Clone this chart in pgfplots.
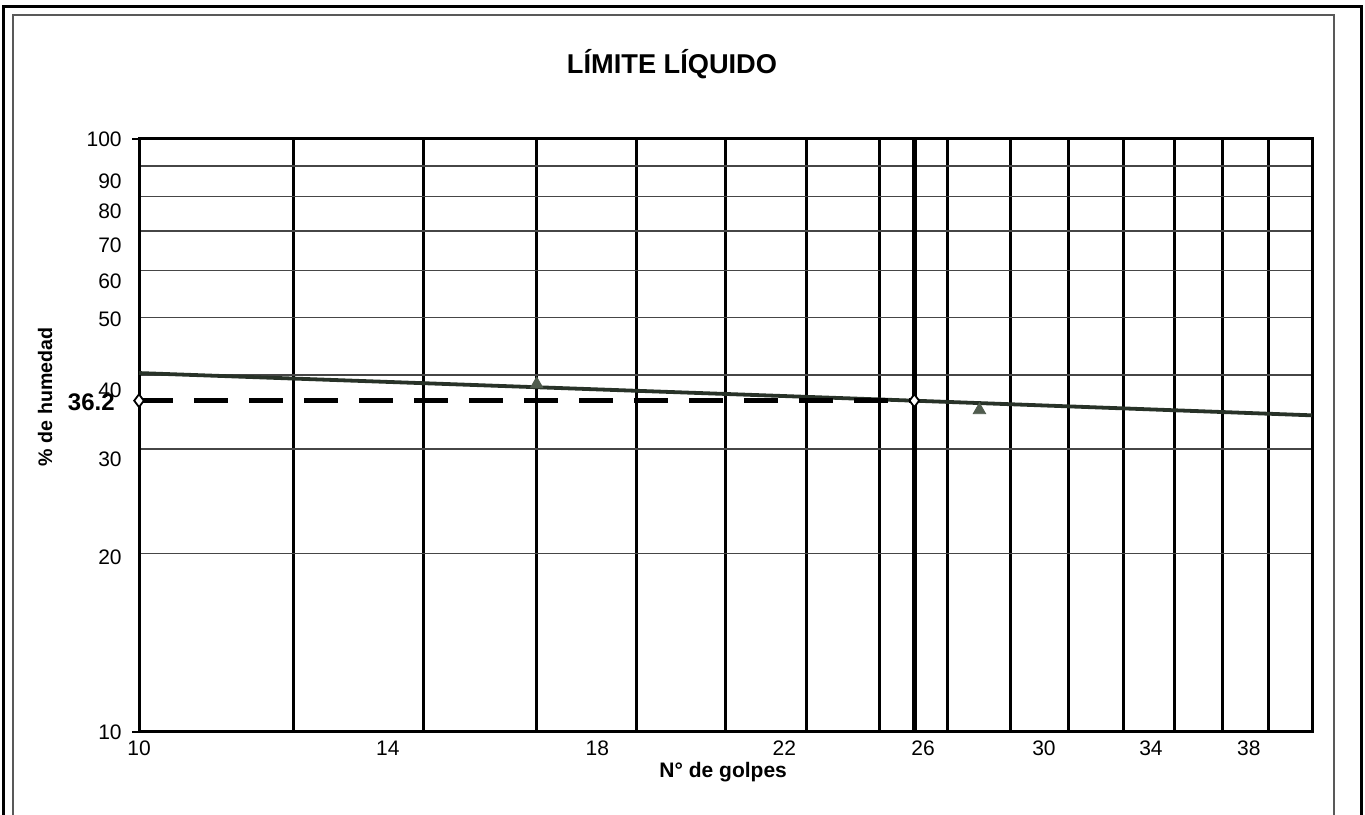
\documentclass[border=0pt]{standalone}
\usepackage{pgfplots}
\pgfplotsset{compat=1.18}
\usepackage{fontspec}
\setmainfont{Liberation Sans}

\definecolor{fitline}{RGB}{40,50,40}
\definecolor{puntos}{RGB}{80,92,78}
\definecolor{gridh}{RGB}{70,70,70}

\begin{document}
\begin{tikzpicture}[x=1pt,y=1pt]
\useasboundingbox (0,0) rectangle (682.5,407);
% double frame around the sheet
\begin{scope}
\clip (0,0) rectangle (682.5,407);
\draw[line width=1.5pt] (1.5,-10) -- (1.5,403.5) -- (680.5,403.5) -- (680.5,-10);
\draw[line width=0.7pt, black!65] (6.5,-10) -- (6.5,399.5) -- (667,399.5) -- (667,-10);
\end{scope}
\node[anchor=base, font=\bfseries\fontsize{13.6}{16}\selectfont] at (336,370) {LÍMITE LÍQUIDO};

\begin{axis}[
  at={(69.5pt,41pt)}, anchor=south west,
  scale only axis, width=586.5pt, height=296.5pt,
  xmode=log, ymode=log,
  xmin=10, xmax=40, ymin=10, ymax=100,
  clip=false,
  axis line style={line width=1.5pt},
  xtick={10,13.42,17.19,21.44,25.26,29.14,33.07,37.13},
  xticklabels={10,14,18,22,26,30,34,38},
  ytick={10,19.7,28.8,37.7,49.7,57.6,66.2,75.6,84.9,100},
  yticklabels={10,20,30,40,50,60,70,80,90,100},
  minor xtick={12,14,16,18,20,22,24,26,28,30,32,34,36,38},
  minor ytick={20,30,40,50,60,70,80,90},
  xmajorgrids=false, ymajorgrids=false,
  xminorgrids=true, yminorgrids=true,
  x grid style={black, line width=1.4pt},
  y grid style={gridh, line width=0.7pt},
  major tick length=0pt, minor tick length=0pt,
  tick pos=left,
  extra y ticks={10,100},
  extra y tick labels={},
  extra y tick style={major tick length=3.5pt, tick align=outside, grid=none, tick style={black, line width=1pt}},
  tick label style={font=\fontsize{10.5}{12}\selectfont},
  xticklabel style={anchor=base, yshift=-12pt},
  yticklabel style={anchor=east, inner xsep=0pt, xshift=-8.5pt},
  xlabel={N° de golpes},
  ylabel={\% de humedad},
  xlabel style={font=\bfseries\fontsize{10.5}{12}\selectfont, at={(axis description cs:0.498,-0.0759)}, anchor=base},
  ylabel style={font=\bfseries\fontsize{9.8}{11}\selectfont, at={(axis description cs:-0.0801,0.565)}, anchor=center},
]
% flow curve
\addplot[fitline, line width=1.9pt] coordinates {(10,40.3) (25,36.2) (40,34.2)};
% liquid limit read at 25 blows
\addplot[black, line width=2.6pt, dash pattern=on 17pt off 10.5pt] coordinates {(10,36.2) (25,36.2)};
\addplot[black, line width=2.2pt] coordinates {(25,10) (25,100)};
\addplot[only marks, mark=diamond*, mark size=3.2pt, mark options={fill=white, draw=black, line width=0.9pt, solid}] coordinates {(10,36.2) (25,36.2)};
% test points
\addplot[only marks, mark=triangle*, mark size=3.6pt, color=puntos] coordinates {(16,38.6) (27,34.9)};
\node[anchor=east, inner sep=0pt, xshift=-12pt, yshift=-1pt, font=\bfseries\fontsize{12}{14}\selectfont] at (axis cs:10,36.2) {36.2};
\end{axis}
\end{tikzpicture}
\end{document}
